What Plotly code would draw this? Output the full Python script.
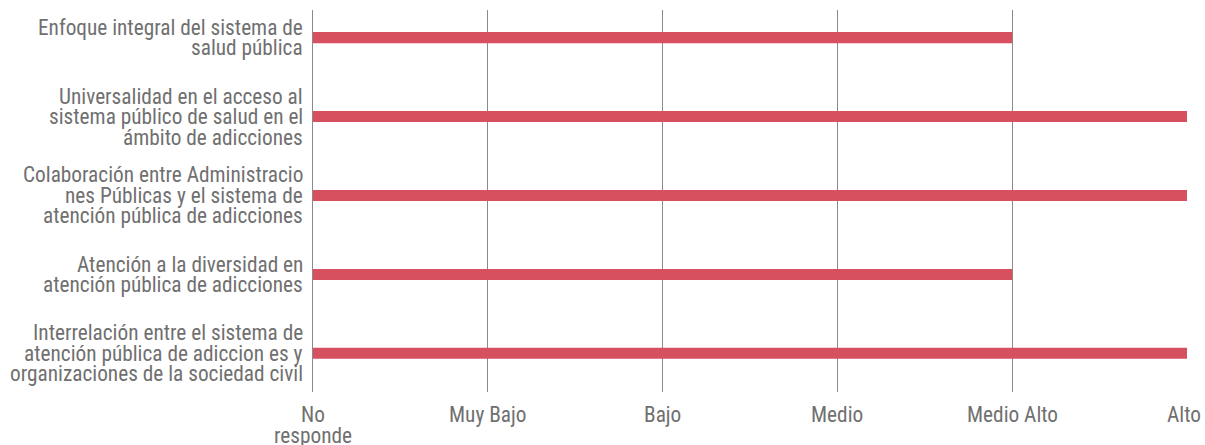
import plotly.graph_objects as go

categories = [
    "Enfoque integral del sistema de<br>salud pública",
    "Universalidad en el acceso al<br>sistema público de salud en el<br>ámbito de adicciones",
    "Colaboración entre Administracio<br>nes Públicas y el sistema de<br>atención pública de adicciones",
    "Atención a la diversidad en<br>atención pública de adicciones",
    "Interrelación entre el sistema de<br>atención pública de adiccion es y<br>organizaciones de la sociedad civil",
]
values = [4, 5, 5, 4, 5]
level_labels = ["No<br>responde", "Muy Bajo", "Bajo", "Medio", "Medio Alto", "Alto"]
level_values = [0, 1, 2, 3, 4, 5]

FONT = "Roboto Condensed, Liberation Sans Narrow, Roboto, sans-serif"
FS = 21.3
LINE_H = 20.5
TEXT = "#707070"
GRID = "#8a8a8a"

fig = go.Figure(
    go.Bar(
        x=values,
        y=categories,
        orientation="h",
        width=0.14,
        marker=dict(color="#d6505f", line=dict(width=0)),
        hoverinfo="x+y",
    )
)

annotations = []
# category labels (multi-line, tight line spacing)
for cat in categories:
    lines = cat.split("<br>")
    n = len(lines)
    for i, ln in enumerate(lines):
        annotations.append(dict(
            text=ln, xref="paper", x=0, xanchor="right", xshift=-9,
            yref="y", y=cat, yanchor="middle", yshift=((n - 1) / 2 - i) * LINE_H,
            borderpad=0,
            showarrow=False, font=dict(family=FONT, size=FS, color=TEXT),
        ))
# level labels on the x axis
last = len(level_values) - 1
for k, (val, lab) in enumerate(zip(level_values, level_labels)):
    lines = lab.split("<br>")
    for i, ln in enumerate(lines):
        annotations.append(dict(
            text=ln, xref="x", x=val, xanchor="center",
            xshift=-3 if k == last else 0,
            yref="paper", y=0, yanchor="top", yshift=-9 - i * LINE_H,
            borderpad=0,
            showarrow=False, font=dict(family=FONT, size=FS, color=TEXT),
        ))

fig.update_layout(
    width=1205,
    height=445,
    margin=dict(l=313, r=18, t=10, b=53),
    paper_bgcolor="white",
    plot_bgcolor="white",
    showlegend=False,
    font=dict(family=FONT, size=FS, color=TEXT),
    annotations=annotations,
)
fig.update_xaxes(
    range=[0, 5],
    tickmode="array",
    tickvals=level_values,
    ticktext=level_labels,
    showticklabels=False,
    showgrid=True,
    gridcolor=GRID,
    gridwidth=1,
    zeroline=False,
    showline=False,
    ticks="",
    automargin=False,
)
fig.update_yaxes(
    type="category",
    range=[4.49, -0.35],
    showticklabels=False,
    showgrid=False,
    zeroline=False,
    showline=True,
    linecolor=GRID,
    linewidth=1,
    ticks="",
    automargin=False,
)

fig.write_html(
    "out.html",
    config={"displayModeBar": False},
    post_script="document.body.style.margin='0';document.body.style.overflow='hidden';",
)
